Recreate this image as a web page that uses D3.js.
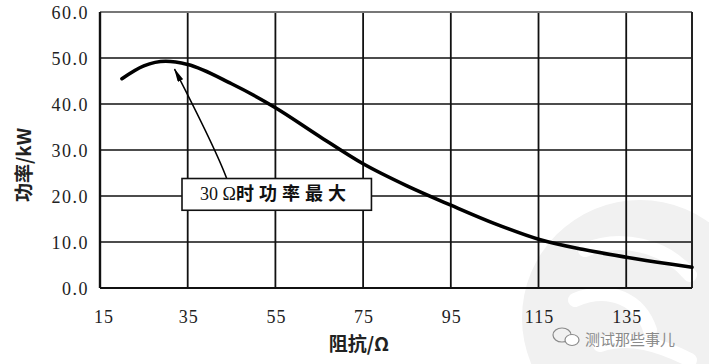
<!DOCTYPE html>
<html>
<head>
<meta charset="utf-8">
<script src="https://cdn.jsdelivr.net/npm/d3@7"></script>
<style>
  body { margin: 0; background: #fff; }
  svg { display: block; }
</style>
</head>
<body>
<div id="chart"></div>
<script>
// Chart data
var resistance = [20, 25, 30, 35, 45, 55, 65, 75, 85, 95, 105, 115, 125, 135, 145, 150];
var power = [45.5, 48.3, 49.3, 48.6, 44.4, 39.2, 33.0, 27.0, 22.2, 18.0, 14.0, 10.6, 8.4, 6.7, 5.2, 4.5];
var xTicks = [15, 35, 55, 75, 95, 115, 135];
var yTicks = [0, 10, 20, 30, 40, 50, 60];
var noteText = ["30 Ω", "时功率最大"];

var margin = {top: 12, right: 17, bottom: 76, left: 100};
var width = 709 - margin.left - margin.right;
var height = 364 - margin.top - margin.bottom;

var svgRoot = d3.select("#chart").append("svg")
  .attr("width", 709)
  .attr("height", 364);

// faint watermark emblem, bottom right
var wm = svgRoot.append("g");
wm.append("circle").attr("cx", 640).attr("cy", 318).attr("r", 118).attr("fill", "#f1f1f1");
wm.append("path")
  .attr("d", "M585,250 C620,235 665,245 690,275 M575,300 C610,285 640,300 650,330 M600,345 C630,335 660,345 690,360")
  .attr("fill", "none").attr("stroke", "#fff").attr("stroke-width", 14).attr("stroke-linecap", "round");

var svg = svgRoot.append("g")
  .attr("transform", "translate(" + margin.left + "," + margin.top + ")");

var x = d3.scaleLinear().domain([15, 150]).range([0, width]);
var y = d3.scaleLinear().domain([0, 60]).range([height, 0]);

// grid lines
svg.append("g")
  .selectAll("line")
  .data(yTicks.slice(1, -1))
  .enter().append("line")
  .attr("x1", 0).attr("x2", width)
  .attr("y1", d => y(d)).attr("y2", d => y(d))
  .attr("stroke", "#111").attr("stroke-width", 1.6);

svg.append("g")
  .selectAll("line")
  .data(xTicks.slice(1))
  .enter().append("line")
  .attr("x1", d => x(d)).attr("x2", d => x(d))
  .attr("y1", 0).attr("y2", height)
  .attr("stroke", "#111").attr("stroke-width", 1.8);

// frame
svg.append("line").attr("x1", 0).attr("x2", width).attr("y1", 0).attr("y2", 0)
  .attr("stroke", "#777").attr("stroke-width", 2);
svg.append("line").attr("x1", width).attr("x2", width).attr("y1", 0).attr("y2", height)
  .attr("stroke", "#222").attr("stroke-width", 2);
svg.append("line").attr("x1", 0).attr("x2", width).attr("y1", height).attr("y2", height)
  .attr("stroke", "#111").attr("stroke-width", 2.2);
svg.append("line").attr("x1", 0).attr("x2", 0).attr("y1", 0).attr("y2", height)
  .attr("stroke", "#111").attr("stroke-width", 2.4);

// tick labels
svg.append("g")
  .selectAll("text")
  .data(yTicks)
  .enter().append("text")
  .attr("x", -11)
  .attr("y", d => y(d))
  .attr("dy", "0.4em")
  .attr("text-anchor", "end")
  .style("font-family", "'Liberation Serif', serif")
  .style("font-size", "18px")
  .style("letter-spacing", "1.5px")
  .attr("fill", "#222")
  .text(d3.format(".1f"));

svg.append("g")
  .selectAll("text")
  .data(xTicks)
  .enter().append("text")
  .attr("x", d => x(d) + (d === 15 ? 4 : 1))
  .attr("y", height + 35)
  .attr("text-anchor", "middle")
  .style("font-family", "'Liberation Serif', serif")
  .style("font-size", "18px")
  .style("letter-spacing", "1px")
  .attr("fill", "#222")
  .text(d => d);

// axis titles
svg.append("text")
  .attr("x", 259)
  .attr("y", height + 63)
  .attr("text-anchor", "middle")
  .style("font-family", "'Noto Sans CJK SC', sans-serif")
  .style("font-size", "19px")
  .style("font-weight", "bold")
  .attr("fill", "#222")
  .text("阻抗/Ω");

svg.append("text")
  .attr("transform", "translate(-69," + (height / 2 + 15) + ") rotate(-90)")
  .attr("text-anchor", "middle")
  .style("font-family", "'Noto Sans CJK SC', sans-serif")
  .style("font-size", "19px")
  .style("font-weight", "bold")
  .attr("fill", "#222")
  .text("功率/kW");

// power curve
var pts = resistance.map((r, i) => ({r: r, p: power[i]}));
svg.append("path")
  .datum(pts)
  .attr("fill", "none")
  .attr("stroke", "#000")
  .attr("stroke-width", 3.6)
  .attr("stroke-linecap", "round")
  .attr("d", d3.line().x(d => x(d.r)).y(d => y(d.p)).curve(d3.curveMonotoneX));

// annotation arrow
var defs = svgRoot.append("defs");
defs.append("marker")
  .attr("id", "head")
  .attr("viewBox", "0 0 14 6")
  .attr("refX", 13).attr("refY", 3)
  .attr("markerWidth", 14).attr("markerHeight", 6)
  .attr("markerUnits", "userSpaceOnUse")
  .attr("orient", "auto")
  .append("path").attr("d", "M0,0 L14,3 L0,6 Z").attr("fill", "#000");

var arrowFrom = {r: 43.9, p: 23.8};
var arrowTo = {r: 32.0, p: 47.6};
svg.append("path")
  .attr("d", "M" + x(arrowFrom.r) + "," + y(arrowFrom.p) +
    " Q" + x(41.5) + "," + y(30) + " " + x(arrowTo.r) + "," + y(arrowTo.p))
  .attr("fill", "none")
  .attr("stroke", "#000")
  .attr("stroke-width", 1.5)
  .attr("marker-end", "url(#head)");

// annotation box
var box = {r0: 33.7, r1: 76.9, p0: 16.9, p1: 23.8};
svg.append("rect")
  .attr("x", x(box.r0)).attr("y", y(box.p1))
  .attr("width", x(box.r1) - x(box.r0))
  .attr("height", y(box.p0) - y(box.p1))
  .attr("fill", "#fff")
  .attr("stroke", "#111")
  .attr("stroke-width", 1.6);

var note = svg.append("text")
  .attr("x", x(box.r0) + 18)
  .attr("y", (y(box.p0) + y(box.p1)) / 2)
  .attr("dy", "0.36em")
  .attr("fill", "#111");
note.append("tspan")
  .style("font-family", "'Liberation Serif', serif")
  .style("font-size", "18px")
  .text(noteText[0]);
note.append("tspan")
  .style("font-family", "'Noto Sans CJK SC', sans-serif")
  .style("font-size", "18px")
  .style("font-weight", "bold")
  .style("letter-spacing", "5px")
  .text(noteText[1]);

// watermark caption
var cap = svgRoot.append("g").attr("fill", "#8a8a8a");
cap.append("ellipse").attr("cx", 562).attr("cy", 335).attr("rx", 9).attr("ry", 7)
  .attr("fill", "none").attr("stroke", "#8a8a8a").attr("stroke-width", 1.2);
cap.append("ellipse").attr("cx", 572).attr("cy", 340).attr("rx", 7).attr("ry", 5.5)
  .attr("fill", "#fff").attr("stroke", "#8a8a8a").attr("stroke-width", 1.2);
cap.append("text")
  .attr("x", 585).attr("y", 345)
  .style("font-family", "'Noto Sans CJK SC', sans-serif")
  .style("font-size", "15px")
  .text("测试那些事儿");
</script>
</body>
</html>
